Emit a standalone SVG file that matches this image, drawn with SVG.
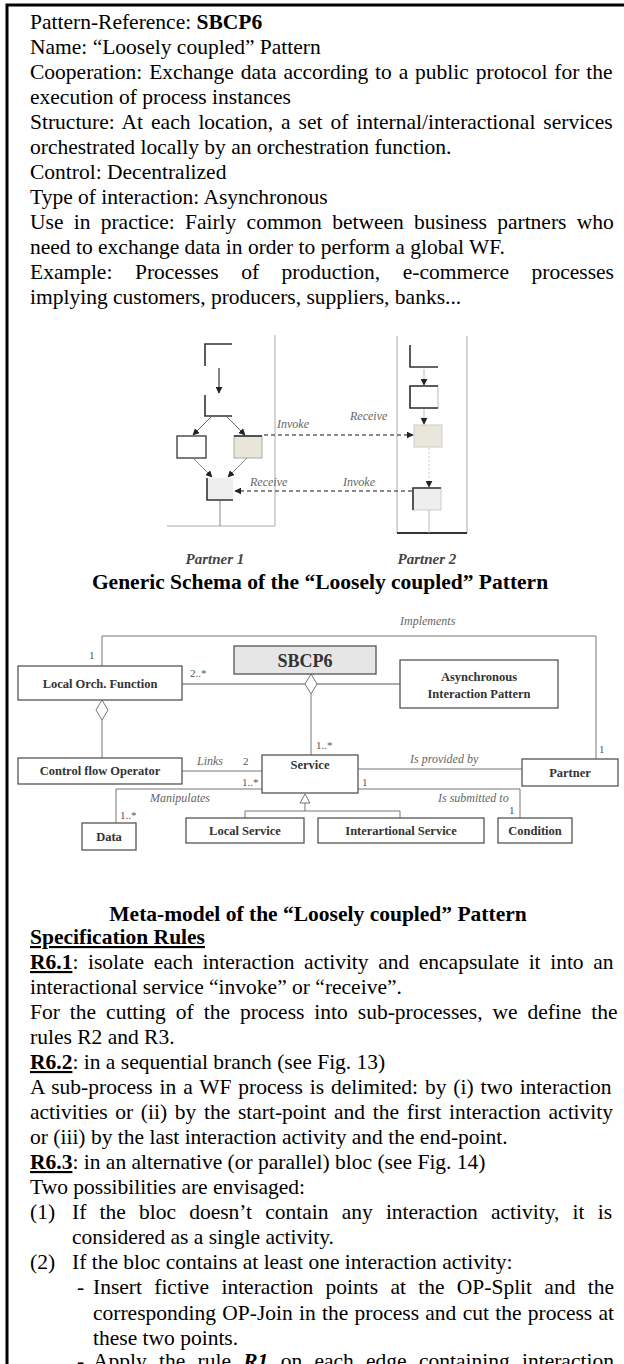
<svg xmlns="http://www.w3.org/2000/svg" width="624" height="1364" viewBox="0 0 624 1364">
<defs>
<marker id="ah" viewBox="0 0 10 10" refX="9" refY="5" markerWidth="7" markerHeight="7" markerUnits="userSpaceOnUse" orient="auto"><path d="M0,0 L10,5 L0,10 z" fill="#222"/></marker>
<style>
.t{font-family:"Liberation Serif","Times New Roman",serif;font-size:21.5px;fill:#000}
.h{font-family:"Liberation Serif","Times New Roman",serif;font-size:21.5px;font-weight:bold;fill:#000;text-anchor:middle}
.b{font-weight:bold}
.u{text-decoration:underline}
.lb{font-family:"Liberation Serif",serif;font-style:italic;font-size:12px;fill:#666}
.pl{font-family:"Liberation Serif",serif;font-style:italic;font-weight:bold;font-size:15px;fill:#444;text-anchor:middle}
.sk{fill:none;stroke:#333;stroke-width:1.6}
.gl{fill:none;stroke:#aaa;stroke-width:1}
.dash{fill:none;stroke:#666;stroke-width:1.4;stroke-dasharray:4 3}
.box{fill:#fff;stroke:#555;stroke-width:1.3}
.bn{font-family:"Liberation Serif",serif;font-weight:bold;font-size:12.5px;fill:#333;text-anchor:middle}
.ml{font-family:"Liberation Serif",serif;font-style:italic;font-size:12px;fill:#666}
.mu{font-family:"Liberation Serif",serif;font-size:11px;fill:#555}
.ln{fill:none;stroke:#777;stroke-width:1}
</style>
</defs>
<rect width="624" height="1364" fill="#fff"/>
<g id="frame"><path d="M7,1364 V5 H624" fill="none" stroke="#000" stroke-width="3"/></g>

<g id="header-text">
<text class="t" x="30" y="29">Pattern-Reference: <tspan class="b">SBCP6</tspan></text>
<text class="t" x="30" y="54">Name: “Loosely coupled” Pattern</text>
<text class="t" x="30" y="79" word-spacing="1.5">Cooperation: Exchange data according to a public protocol for the</text>
<text class="t" x="30" y="104">execution of process instances</text>
<text class="t" x="30" y="129" word-spacing="2.6">Structure: At each location, a set of internal/interactional services</text>
<text class="t" x="30" y="154">orchestrated locally by an orchestration function.</text>
<text class="t" x="30" y="179">Control: Decentralized</text>
<text class="t" x="30" y="204">Type of interaction: Asynchronous</text>
<text class="t" x="30" y="229" word-spacing="4.9">Use in practice: Fairly common between business partners who</text>
<text class="t" x="30" y="254">need to exchange data in order to perform a global WF.</text>
<text class="t" x="30" y="279" word-spacing="17.2">Example: Processes of production, e-commerce processes</text>
<text class="t" x="30" y="304">implying customers, producers, suppliers, banks...</text>
</g>

<g id="schema">
<g id="partner1-lane">
<path class="gl" d="M275,335 V526 M167,526 H275"/>
<path d="M220,500 V526" stroke="#888" stroke-width="1" fill="none"/>
</g>
<g id="p1-start"><path class="sk" d="M232,344 H205 V366"/></g>
<g id="p1-split"><path class="sk" d="M205,395 V416 H232"/></g>
<g id="p1-box-left"><rect x="177" y="436" width="29" height="22" fill="#fff" stroke="#444" stroke-width="1.4"/></g>
<g id="p1-box-invoke"><rect x="234" y="436" width="28" height="22" fill="#e9e5d8" stroke="#aaa" stroke-width="1"/><path class="sk" d="M234,436 H262"/></g>
<g id="p1-receive"><rect x="207" y="478" width="26" height="22" fill="#ededed"/><path class="sk" d="M207,478 V500 H233"/></g>
<g id="partner2-lane">
<path class="gl" d="M397,336 V533 M467,336 V533"/>
<path d="M397,533 H467" stroke="#333" stroke-width="2"/>
<path d="M429,510 V533" stroke="#bbb" stroke-width="1" fill="none"/>
</g>
<g id="p2-start"><path class="sk" d="M410,345 V367 H438"/></g>
<g id="p2-box1"><rect x="410" y="386" width="28" height="22" fill="#fff" stroke="#bbb"/><path class="sk" d="M438,386 H410 V408 H438"/></g>
<g id="p2-receive"><rect x="414" y="425" width="28" height="22" fill="#e9e7dc" stroke="#ccc"/></g>
<g id="p2-invoke"><rect x="413" y="488" width="28" height="22" fill="#eeeeee" stroke="#ccc"/><path class="sk" d="M413,510 V488 H441"/></g>
<g id="schema-connectors">
<path d="M219,368 V393" stroke="#333" stroke-width="1.2" marker-end="url(#ah)"/>
<path d="M211,417 L193,435" stroke="#666" stroke-width="1" marker-end="url(#ah)"/>
<path d="M227,417 L245,435" stroke="#666" stroke-width="1" marker-end="url(#ah)"/>
<path d="M193,458 L212,477" stroke="#888" stroke-width="1" marker-end="url(#ah)"/>
<path d="M247,458 L228,477" stroke="#888" stroke-width="1" marker-end="url(#ah)"/>
<path d="M424,369 V385" stroke="#bbb" stroke-width="1" marker-end="url(#ah)"/>
<path d="M424,409 V424" stroke="#bbb" stroke-width="1" marker-end="url(#ah)"/>
<path d="M429,448 V487" stroke="#ccc" stroke-width="1" stroke-dasharray="2 2" marker-end="url(#ah)"/>
<path class="dash" d="M264,435 H413" marker-end="url(#ah)"/>
<path class="dash" d="M412,491 H235" marker-end="url(#ah)"/>
</g>
<text class="lb" x="277" y="428">Invoke</text>
<text class="lb" x="350" y="420">Receive</text>
<text class="lb" x="250" y="486">Receive</text>
<text class="lb" x="343" y="486">Invoke</text>
<text class="pl" x="215" y="564">Partner 1</text>
<text class="pl" x="427" y="564">Partner 2</text>
</g>
<text class="h" x="320" y="589">Generic Schema of the “Loosely coupled” Pattern</text>

<g id="metamodel">
<g id="mm-connectors">
<path class="ln" d="M102,666 V636 H596 V759"/>
<path d="M182,684 H400" stroke="#aaa" stroke-width="2.2" fill="none"/>
<path class="ln" d="M311,694 V755"/>
<path class="ln" d="M102,720 V758"/>
<path class="ln" d="M182,771 H262"/>
<path class="ln" d="M358,769 H522"/>
<path class="ln" d="M262,789 H116 V823"/>
<path class="ln" d="M358,789 H520 V818"/>
<path class="ln" d="M305,803 V811 M245,811 H400 M245,811 V818 M400,811 V818"/>
<polygon points="305,794 310,803 300,803" fill="#fff" stroke="#777" stroke-width="1"/>
<polygon points="311,674 317,684 311,694 305,684" fill="#fff" stroke="#777" stroke-width="1"/>
<polygon points="102,700 108,710 102,720 96,710" fill="#fff" stroke="#777" stroke-width="1"/>
</g>
<text class="ml" x="400" y="625">Implements</text>
<text class="mu" x="89" y="659">1</text>
<text class="mu" x="190" y="677">2..*</text>
<text class="mu" x="316" y="749">1..*</text>
<text class="mu" x="599" y="753">1</text>
<text class="ml" x="197" y="765">Links</text>
<text class="mu" x="243" y="765">2</text>
<text class="ml" x="410" y="763">Is provided by</text>
<text class="mu" x="242" y="786">1..*</text>
<text class="mu" x="362" y="786">1</text>
<text class="ml" x="150" y="802">Manipulates</text>
<text class="ml" x="438" y="802">Is submitted to</text>
<text class="mu" x="509" y="814">1</text>
<text class="mu" x="120" y="819">1..*</text>
<g id="n-sbcp6"><rect x="234" y="646" width="142" height="28" fill="#e6e6e6" stroke="#555" stroke-width="1.3"/><text class="bn" x="305" y="667" style="font-size:18px">SBCP6</text></g>
<g id="n-localorch"><rect class="box" x="18" y="666" width="164" height="34"/><text class="bn" x="100" y="688">Local Orch. Function</text></g>
<g id="n-async"><rect class="box" x="400" y="660" width="158" height="48"/><text class="bn" x="479" y="681">Asynchronous</text><text class="bn" x="479" y="698">Interaction Pattern</text></g>
<g id="n-control"><rect class="box" x="18" y="758" width="164" height="26"/><text class="bn" x="100" y="775">Control flow Operator</text></g>
<g id="n-service"><rect class="box" x="262" y="755" width="96" height="38"/><text class="bn" x="310" y="769">Service</text></g>
<g id="n-partner"><rect class="box" x="522" y="759" width="96" height="27"/><text class="bn" x="570" y="777">Partner</text></g>
<g id="n-data"><rect class="box" x="82" y="823" width="54" height="27"/><text class="bn" x="109" y="841">Data</text></g>
<g id="n-localservice"><rect class="box" x="186" y="818" width="118" height="25"/><text class="bn" x="245" y="835">Local Service</text></g>
<g id="n-interservice"><rect class="box" x="318" y="818" width="166" height="25"/><text class="bn" x="401" y="835">Interartional Service</text></g>
<g id="n-condition"><rect class="box" x="498" y="818" width="74" height="25"/><text class="bn" x="535" y="835">Condition</text></g>
</g>
<text class="h" x="318" y="921">Meta-model of the “Loosely coupled” Pattern</text>

<g id="rules-text">
<text class="t b u" x="30" y="944">Specification Rules</text>
<text class="t" x="30" y="969" word-spacing="4.2"><tspan class="b u">R6.1</tspan>: isolate each interaction activity and encapsulate it into an</text>
<text class="t" x="30" y="994">interactional service “invoke” or “receive”.</text>
<text class="t" x="30" y="1019" word-spacing="4.6">For the cutting of the process into sub-processes, we define the</text>
<text class="t" x="30" y="1044">rules R2 and R3.</text>
<text class="t" x="30" y="1069"><tspan class="b u">R6.2</tspan>: in a sequential branch (see Fig. 13)</text>
<text class="t" x="30" y="1094" word-spacing="1.5">A sub-process in a WF process is delimited: by (i) two interaction</text>
<text class="t" x="30" y="1119" word-spacing="2.3">activities or (ii) by the start-point and the first interaction activity</text>
<text class="t" x="30" y="1144">or (iii) by the last interaction activity and the end-point.</text>
<text class="t" x="30" y="1169"><tspan class="b u">R6.3</tspan>: in an alternative (or parallel) bloc (see Fig. 14)</text>
<text class="t" x="30" y="1194">Two possibilities are envisaged:</text>
<text class="t" x="30" y="1219">(1)</text>
<text class="t" x="72" y="1219" word-spacing="7.8">If the bloc doesn’t contain any interaction activity, it is</text>
<text class="t" x="72" y="1244">considered as a single activity.</text>
<text class="t" x="30" y="1269">(2)</text>
<text class="t" x="72" y="1269">If the bloc contains at least one interaction activity:</text>
<text class="t" x="77" y="1294">-</text>
<text class="t" x="93" y="1294" word-spacing="6.9">Insert fictive interaction points at the OP-Split and the</text>
<text class="t" x="93" y="1320" word-spacing="0.9">corresponding OP-Join in the process and cut the process at</text>
<text class="t" x="93" y="1345">these two points.</text>
<text class="t" x="77" y="1368">-</text>
<text class="t" x="93" y="1368" word-spacing="6.9">Apply the rule <tspan font-weight="bold" font-style="italic">R1</tspan> on each edge containing interaction</text>
</g>
</svg>
